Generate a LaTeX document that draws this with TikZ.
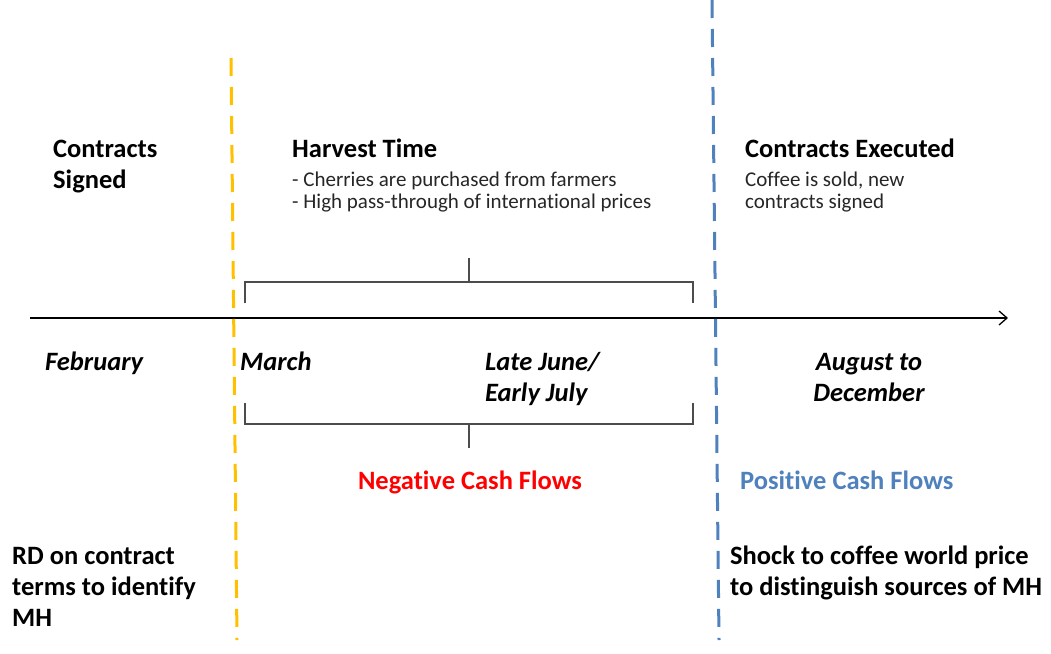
\documentclass[tikz,border=0pt]{standalone}
\usepackage{fontspec}
\setmainfont{Carlito}[Ligatures=NoCommon]
\usetikzlibrary{arrows.meta, positioning, calc}
\definecolor{harvestgold}{RGB}{255,192,0}
\definecolor{execblue}{RGB}{79,129,189}
\definecolor{cashred}{RGB}{255,0,0}
\tikzset{
  head/.style  ={anchor=base west, inner sep=0pt, align=left,
                 font=\fontsize{26.5}{31}\selectfont\bfseries},
  note/.style  ={anchor=base west, inner sep=0pt, align=left,
                 font=\fontsize{21}{22}\selectfont, text=black!85},
  month/.style ={anchor=base west, inner sep=0pt, align=left,
                 font=\fontsize{26.5}{31}\selectfont\bfseries\itshape},
  cash/.style  ={anchor=base, inner sep=0pt,
                 font=\fontsize{26.5}{31}\selectfont\bfseries},
  cut/.style   ={dash pattern=on 18pt off 11pt, line width=3pt},
  brace/.style ={draw=black!70, line width=1.3pt},
  axis/.style  ={-{Straight Barb[length=8pt, width=14pt]}, line width=1.3pt},
}

\begin{document}
\begin{tikzpicture}[x=1pt, y=-1pt]
  \useasboundingbox (0,0) rectangle (1051,653);

  % time line
  \coordinate (t0) at (30,318);
  \coordinate (t1) at (1008,318);
  \draw[axis] (t0) -- (t1);

  % the two cut-off dates
  \coordinate (ytop) at (231,58);  \coordinate (ybot) at (237,640);
  \coordinate (btop) at (712,0);   \coordinate (bbot) at (719,640);
  \draw[cut, harvestgold] (ytop) -- (ybot);
  \draw[cut, execblue]    (btop) -- (bbot);

  % brackets over and under the harvest months
  \coordinate (hl) at (245,282);  \coordinate (hr) at (693,282);
  \coordinate (ll) at (245,424);  \coordinate (lr) at (693,424);
  \draw[brace] ($(hl)+(0,21)$) -- (hl) -- (hr) -- ($(hr)+(0,21)$);
  \draw[brace] ($(hl)!0.5!(hr)$) -- ++(0,-24);
  \draw[brace] ($(ll)+(0,-21)$) -- (ll) -- (lr) -- ($(lr)+(0,-21)$);
  \draw[brace] ($(ll)!0.5!(lr)$) -- ++(0,24);

  % above the line (base = baseline of the last line)
  \node[head] (sign) at (53,188)  {Contracts\\Signed};
  \node[head] (harv) at (292,157) {Harvest Time};
  \node[note] (harvnote) at (292,208)
       {- Cherries are purchased from farmers\\- High pass-through of international prices};
  \node[head] (exec) at (745,157) {Contracts Executed};
  \node[note] (execnote) at (745,208) {Coffee is sold, new\\contracts signed};

  % months
  \node[month] (feb)  at (45,370)  {February};
  \node[month] (mar)  at (240,370) {March};
  \node[month] (jul)  at (485,401) {Late June/\\Early July};
  \node[month, anchor=base, align=center] (aug) at (869,401) {August to\\December};

  % cash flows
  \node[cash, text=cashred] (neg) at (470,489) {Negative Cash Flows};
  \node[cash, text=execblue, anchor=base west] (pos) at (740,489) {Positive Cash Flows};

  % identification
  \node[head] (rd)    at (12,626)  {RD on contract\\terms to identify\\MH};
  \node[head] (shock) at (730,595) {Shock to coffee world price\\to distinguish sources of MH};
\end{tikzpicture}
\end{document}
